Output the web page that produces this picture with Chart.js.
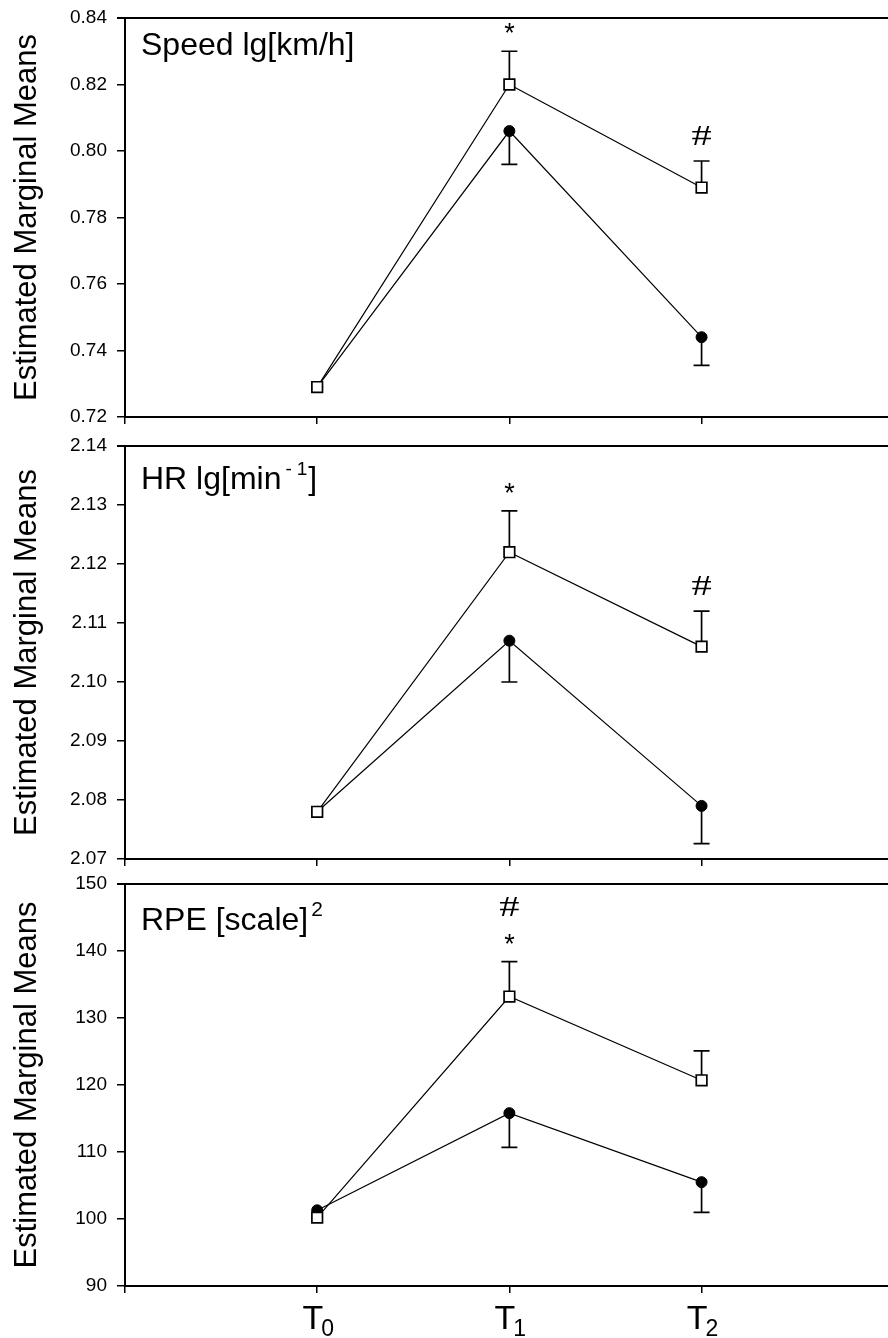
<!DOCTYPE html>
<html>
<head>
<meta charset="utf-8">
<script src="https://cdn.jsdelivr.net/npm/chart.js@4.4.0/dist/chart.umd.min.js"></script>
<style>
  html, body { margin: 0; padding: 0; background: #fff; }
  #wrap { position: relative; width: 888px; height: 1338px; overflow: hidden; }
  canvas { position: absolute; left: 0; }
</style>
</head>
<body>
<div id="wrap">
  <canvas id="speedChart" width="888" height="432" style="top:0px"></canvas>
  <canvas id="hrChart" width="888" height="440" style="top:432px"></canvas>
  <canvas id="rpeChart" width="888" height="466" style="top:872px"></canvas>
</div>
<script>
const timeLabels = ['T0', 'T1', 'T2'];
const timeIndex = [0, 1, 2];

// Speed lg[km/h]
const speedOpen = [0.729, 0.820, 0.789];
const speedOpenErr = [0, 0.010, 0.008];
const speedFilled = [0.729, 0.806, 0.744];
const speedFilledErr = [0, 0.010, 0.0085];
const speedMarks = [[], ['*'], ['#']];
const speedTicks = [0.72, 0.74, 0.76, 0.78, 0.80, 0.82, 0.84];

// HR lg[min-1]
const hrOpen = [2.078, 2.122, 2.106];
const hrOpenErr = [0, 0.007, 0.006];
const hrFilled = [2.078, 2.107, 2.079];
const hrFilledErr = [0, 0.007, 0.0064];
const hrMarks = [[], ['*'], ['#']];
const hrTicks = [2.07, 2.08, 2.09, 2.10, 2.11, 2.12, 2.13, 2.14];

// RPE [scale]^2
const rpeOpen = [100.2, 133.2, 120.7];
const rpeOpenErr = [0, 5.2, 4.4];
const rpeFilled = [101.3, 115.8, 105.5];
const rpeFilledErr = [0, 5.1, 4.5];
const rpeMarks = [[], ['*', '#'], []];
const rpeTicks = [90, 100, 110, 120, 130, 140, 150];

const xTicks = [-1, 0, 1, 2];
const FONT = "'Liberation Sans', Arial, sans-serif";

const toPoints = vals => vals.map((v, i) => ({ x: timeIndex[i], y: v }));

// vertical error bars, squares go up and circles go down
const errorBars = {
    id: 'errorBars',
    beforeDatasetsDraw(chart, args, opts) {
        const { ctx, scales: { x, y } } = chart;
        ctx.save();
        ctx.strokeStyle = '#000';
        ctx.lineWidth = 1.7;
        opts.bars.forEach(b => {
            b.values.forEach((v, i) => {
                const e = b.err[i];
                if (!e) return;
                const px = x.getPixelForValue(timeIndex[i]);
                const py = y.getPixelForValue(v);
                const ey = y.getPixelForValue(v + b.dir * e);
                ctx.beginPath();
                ctx.moveTo(px, py);
                ctx.lineTo(px, ey);
                ctx.moveTo(px - 8, ey);
                ctx.lineTo(px + 8, ey);
                ctx.stroke();
            });
        });
        ctx.restore();
    }
};

// significance marks above the upper error bar, panel title, top frame line
const panelDecor = {
    id: 'panelDecor',
    afterDraw(chart, args, opts) {
        const { ctx, chartArea, scales: { x, y } } = chart;
        ctx.save();
        ctx.strokeStyle = '#000';
        ctx.lineWidth = 2;
        ctx.beginPath();
        ctx.moveTo(chartArea.left - 8, chartArea.top);
        ctx.lineTo(chartArea.right, chartArea.top);
        ctx.stroke();

        ctx.fillStyle = '#000';
        ctx.textAlign = 'center';
        ctx.textBaseline = 'alphabetic';
        opts.marks.forEach((list, i) => {
            if (!list.length) return;
            const px = x.getPixelForValue(timeIndex[i]);
            const top = y.getPixelForValue(opts.values[i] + opts.err[i]);
            list.forEach((m, k) => {
                if (m === '*') {
                    ctx.font = '27px ' + FONT;
                    ctx.fillText(m, px, top - 9 - k * 30);
                } else {
                    // wide, slanted hash as in the original
                    ctx.save();
                    ctx.translate(px, top - 16 - k * 30);
                    ctx.scale(1.35, 1);
                    ctx.font = "30px 'Liberation Serif', serif";
                    ctx.fillText(m, 0, 0);
                    ctx.restore();
                }
            });
        });

        // title with optional superscript
        ctx.textAlign = 'left';
        let tx = 141;
        opts.title.forEach(part => {
            ctx.font = part.size + 'px ' + FONT;
            ctx.fillText(part.text, tx, opts.titleY - (part.rise || 0));
            tx += ctx.measureText(part.text).width + (part.gap || 0);
        });

        // x labels with subscript
        if (opts.xLabels) {
            timeLabels.forEach((lab, i) => {
                const px = x.getPixelForValue(timeIndex[i]);
                ctx.font = '34px ' + FONT;
                const wT = ctx.measureText(lab[0]).width;
                ctx.font = '23px ' + FONT;
                const wS = ctx.measureText(lab.slice(1)).width;
                const start = px - (wT + wS) / 2 + 2;
                ctx.font = '34px ' + FONT;
                ctx.fillText(lab[0], start, chartArea.bottom + 43);
                ctx.font = '23px ' + FONT;
                ctx.fillText(lab.slice(1), start + wT - 2, chartArea.bottom + 50);
            });
        }
        ctx.restore();
    }
};

function makePanel(id, cfg) {
    const ctx = document.getElementById(id).getContext('2d');
    return new Chart(ctx, {
        type: 'line',
        data: {
            datasets: [
                {
                    label: 'open',
                    data: toPoints(cfg.open),
                    borderColor: '#000',
                    borderWidth: 1.2,
                    pointStyle: 'rect',
                    pointRadius: 7.5,
                    pointBackgroundColor: '#fff',
                    pointBorderColor: '#000',
                    pointBorderWidth: 1.7,
                },
                {
                    label: 'filled',
                    data: toPoints(cfg.filled),
                    borderColor: '#000',
                    borderWidth: 1.2,
                    pointStyle: 'circle',
                    pointRadius: 5.5,
                    pointBackgroundColor: '#000',
                    pointBorderColor: '#000',
                    pointBorderWidth: 1,
                },
            ],
        },
        options: {
            responsive: false,
            animation: false,
            layout: {
                autoPadding: false,
                padding: { top: cfg.padTop, right: 0, left: 0, bottom: 0 },
            },
            plugins: {
                legend: { display: false },
                tooltip: { enabled: false },
                errorBars: {
                    bars: [
                        { values: cfg.open, err: cfg.openErr, dir: 1 },
                        { values: cfg.filled, err: cfg.filledErr, dir: -1 },
                    ],
                },
                panelDecor: {
                    marks: cfg.marks,
                    values: cfg.open,
                    err: cfg.openErr,
                    title: cfg.title,
                    titleY: cfg.titleY,
                    xLabels: cfg.xLabels,
                },
            },
            scales: {
                x: {
                    type: 'linear',
                    min: -1,
                    max: 2.97,
                    afterBuildTicks: axis => { axis.ticks = xTicks.map(v => ({ value: v })); },
                    afterFit: axis => {
                        axis.height = cfg.xHeight;
                        axis.paddingLeft = 0;
                        axis.paddingRight = 0;
                    },
                    ticks: { callback: () => '', padding: 0 },
                    grid: { drawOnChartArea: false, tickLength: 7, color: '#000', lineWidth: 1.5 },
                    border: { color: '#000', width: 2 },
                },
                y: {
                    min: cfg.ticks[0],
                    max: cfg.ticks[cfg.ticks.length - 1],
                    afterBuildTicks: axis => { axis.ticks = cfg.ticks.map(v => ({ value: v })); },
                    afterFit: axis => {
                        axis.width = 125;
                        axis.paddingTop = 0;
                        axis.paddingBottom = 0;
                    },
                    ticks: {
                        color: '#000',
                        padding: 10,
                        font: { family: FONT, size: 19 },
                        callback: v => v.toFixed(cfg.digits),
                    },
                    grid: { drawOnChartArea: false, tickLength: 8, color: '#000', lineWidth: 1.5 },
                    border: { color: '#000', width: 2 },
                    title: {
                        display: true,
                        text: 'Estimated Marginal Means',
                        color: '#000',
                        font: { family: FONT, size: 31 },
                        padding: { top: 9, bottom: 0 },
                    },
                },
            },
        },
        plugins: [errorBars, panelDecor],
    });
}

makePanel('speedChart', {
    open: speedOpen, openErr: speedOpenErr,
    filled: speedFilled, filledErr: speedFilledErr,
    marks: speedMarks, ticks: speedTicks, digits: 2,
    title: [{ text: 'Speed lg[km/h]', size: 32 }],
    titleY: 55, padTop: 18, xHeight: 15,
});

makePanel('hrChart', {
    open: hrOpen, openErr: hrOpenErr,
    filled: hrFilled, filledErr: hrFilledErr,
    marks: hrMarks, ticks: hrTicks, digits: 2,
    title: [
        { text: 'HR lg[min', size: 32, gap: 4 },
        { text: '-', size: 19, rise: 14, gap: 5 },
        { text: '1', size: 19, rise: 14, gap: 1 },
        { text: ']', size: 32 },
    ],
    titleY: 57, padTop: 14, xHeight: 13,
});

makePanel('rpeChart', {
    open: rpeOpen, openErr: rpeOpenErr,
    filled: rpeFilled, filledErr: rpeFilledErr,
    marks: rpeMarks, ticks: rpeTicks, digits: 0,
    title: [
        { text: 'RPE [scale]', size: 32, gap: 3 },
        { text: '2', size: 21, rise: 14 },
    ],
    titleY: 58, padTop: 12, xHeight: 52, xLabels: true,
});
</script>
</body>
</html>
